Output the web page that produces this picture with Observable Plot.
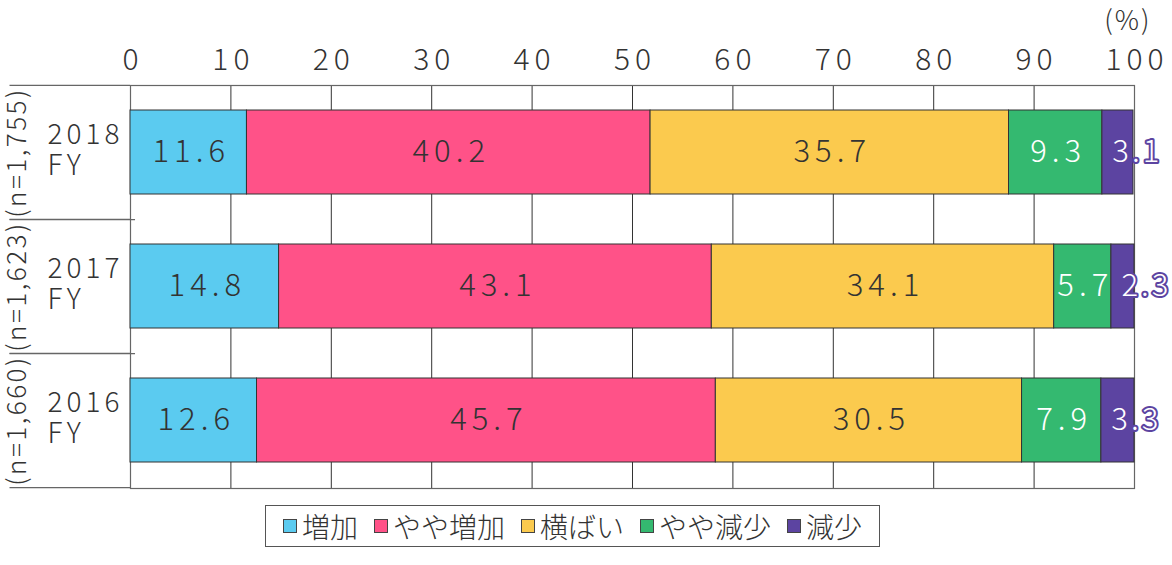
<!DOCTYPE html>
<html><head><meta charset="utf-8">
<script src="https://cdn.jsdelivr.net/npm/d3@7"></script>
<script src="https://cdn.jsdelivr.net/npm/@observablehq/plot@0.6"></script>
<style>
body{margin:0;background:#fff;font-family:"Noto Sans CJK JP","Noto Sans",sans-serif;color:#333;}
#wrap{position:relative;width:1172px;height:565px;}
#legend{position:absolute;left:265px;top:505px;width:613px;height:40px;border:1px solid #555;display:flex;align-items:center;justify-content:center;gap:16px;font-size:28px;font-weight:300;color:#333;box-sizing:content-box;}
#legend span.item{display:flex;align-items:center;}
#legend i{display:inline-block;width:12px;height:12px;border:1px solid #444;margin-right:5px;}
g[aria-description="values"] text, g[aria-description="ticks"] text{letter-spacing:5px;}
g[aria-description="small"] text{letter-spacing:3px;}
g[aria-description="years"] text{letter-spacing:4px;}
g[aria-description="n"] text{letter-spacing:2.5px;}
g[aria-description="unit"] text{letter-spacing:2px;}
</style>
</head><body><div id="wrap"><div id="chart"></div><div id="legend"></div></div>
<script>
const years = ["2018\nFY", "2017\nFY", "2016\nFY"];
const nLabels = ["(n=1,755)", "(n=1,623)", "(n=1,660)"];
const categories = ["増加", "やや増加", "横ばい", "やや減少", "減少"];
const colors = ["#5bcbf0", "#ff5288", "#fbca4e", "#34b970", "#5c44a1"];
const v2018 = [11.6, 40.2, 35.7, 9.3, 3.1];
const v2017 = [14.8, 43.1, 34.1, 5.7, 2.3];
const v2016 = [12.6, 45.7, 30.5, 7.9, 3.3];
const xTicks = [0, 10, 20, 30, 40, 50, 60, 70, 80, 90, 100];

const series = [v2018, v2017, v2016];
const data = [];
years.forEach((y, i) => categories.forEach((c, j) => data.push({year: y, cat: c, idx: j, value: series[i][j]})));

const H = 496, mTop = 85, mBot = 8;
const half = (H - mTop - mBot) / years.length / 2;
const font = '"Noto Sans CJK JP","Noto Sans",sans-serif';
const fmt = d => d.value.toFixed(1);

const chart = Plot.plot({
  width: 1172, height: H,
  marginLeft: 130, marginRight: 38, marginTop: mTop, marginBottom: mBot,
  style: {fontFamily: font, fontWeight: 300, color: "#333", background: "#fff", overflow: "visible"},
  x: {domain: [0, 100], label: null, axis: null},
  y: {domain: years, paddingInner: 0.373, paddingOuter: 0.1865, axis: null, label: null},
  color: {domain: categories, range: colors},
  marks: [
    Plot.ruleX(xTicks, {x: d => d, stroke: "#333", strokeWidth: 1}),
    Plot.frame({stroke: "#666", strokeWidth: 1.2}),
    Plot.ruleY(years, {y: d => d, dy: -half, x1: -12, x2: 0, stroke: "#666", strokeWidth: 1.2}),
    Plot.ruleY(years, {y: d => d, dy: half, x1: -12, x2: d => d === years[years.length - 1] ? 0 : 0.5, stroke: "#666", strokeWidth: 1.2}),
    Plot.barX(data, Plot.stackX({x: "value", y: "year", z: "cat", fill: "cat", stroke: "#333", strokeWidth: 1})),
    Plot.text(data, Plot.stackX({x: "value", y: "year", z: "cat", text: d => d.idx < 3 ? fmt(d) : "", fill: "#333", fontSize: 31, fontWeight: 300, dx: 2.5, ariaDescription: "values"})),
    Plot.text(data, Plot.stackX({x: "value", y: "year", z: "cat", text: d => d.idx === 3 ? fmt(d) : "", fill: "white", fontSize: 31, fontWeight: 300, dx: 2.5, ariaDescription: "values"})),
    Plot.text(data, Plot.stackX1({x: "value", y: "year", z: "cat", text: d => d.idx === 4 ? fmt(d) : "", fill: "white", stroke: "#5c44a1", strokeWidth: 4, paintOrder: "stroke", textAnchor: "start", dx: 10, fontSize: 31, fontWeight: 300, ariaDescription: "small"})),
    Plot.text(xTicks, {x: d => d, frameAnchor: "top", text: d => String(d), dx: 2.5, dy: -25, fill: "#333", fontSize: 30, fontWeight: 300, lineAnchor: "middle", ariaDescription: "ticks"}),
    Plot.text(["(%)"], {frameAnchor: "top-right", text: d => d, dx: 17, dy: -64, fill: "#333", fontSize: 27, fontWeight: 300, lineAnchor: "middle", ariaDescription: "unit"}),
    Plot.text(years, {y: d => d, text: d => d, frameAnchor: "left", dx: -83, dy: -3, textAnchor: "start", lineAnchor: "middle", lineHeight: 1.12, fill: "#333", fontSize: 28, fontWeight: 300, ariaDescription: "years"}),
    Plot.text(years, {y: d => d, text: (d, i) => nLabels[i], frameAnchor: "left", dx: -113, rotate: -90, textAnchor: "middle", lineAnchor: "middle", fill: "#333", fontSize: 26, fontWeight: 300, ariaDescription: "n"})
  ]
});
document.getElementById("chart").appendChild(chart);

const lg = document.getElementById("legend");
categories.forEach((c, i) => {
  const s = document.createElement("span");
  s.className = "item";
  s.innerHTML = `<i style="background:${colors[i]}"></i>${c}`;
  lg.appendChild(s);
});
</script></body></html>
